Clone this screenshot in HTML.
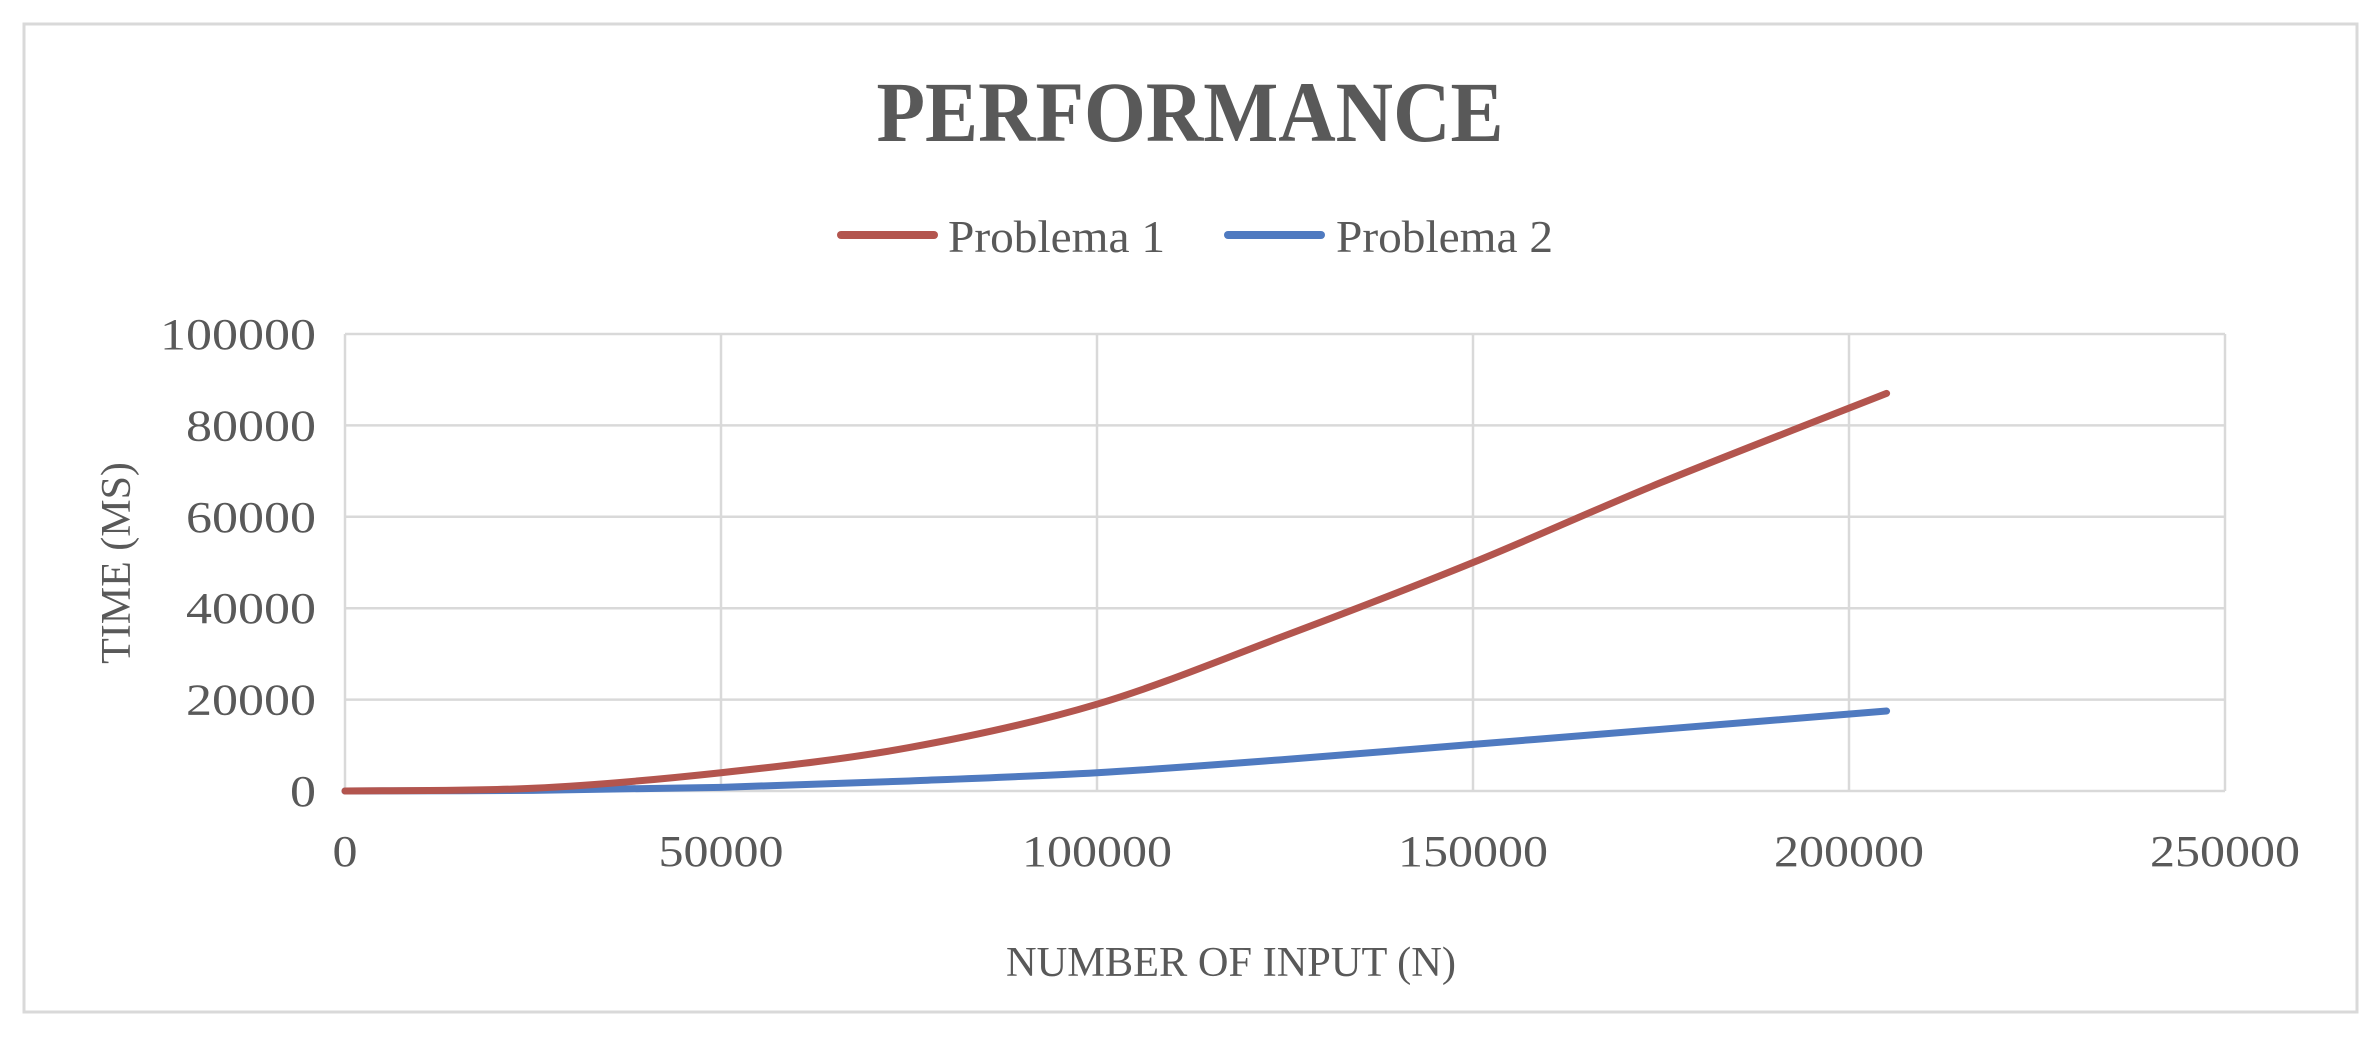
<!DOCTYPE html>
<html><head><meta charset="utf-8"><style>
html,body{margin:0;padding:0;background:#fff;}
svg text{font-family:"Liberation Serif",serif;fill:#595959;}
</style></head><body>
<svg width="2380" height="1036" xmlns="http://www.w3.org/2000/svg">
<rect x="24" y="24" width="2333" height="988" fill="#fff" stroke="#d9d9d9" stroke-width="3"/>
<text x="1190" y="141" text-anchor="middle" font-size="86" font-weight="bold" textLength="627" lengthAdjust="spacingAndGlyphs">PERFORMANCE</text>
<g>
<line x1="841" y1="235" x2="934" y2="235" stroke="#b3554e" stroke-width="8" stroke-linecap="round"/>
<text x="948" y="252" font-size="46" textLength="217" lengthAdjust="spacingAndGlyphs">Problema 1</text>
<line x1="1228" y1="235" x2="1321" y2="235" stroke="#4f7ac0" stroke-width="8" stroke-linecap="round"/>
<text x="1336" y="252" font-size="46" textLength="217" lengthAdjust="spacingAndGlyphs">Problema 2</text>
</g>
<g id="grid"></g><g id="ticks"></g><g id="series"></g>
<text x="1231" y="976" text-anchor="middle" font-size="42" textLength="450" lengthAdjust="spacingAndGlyphs">NUMBER OF INPUT (N)</text>
<text transform="translate(130,563) rotate(-90)" text-anchor="middle" font-size="42">TIME (MS)</text>
</svg>
<script>
const xTicks=[0,50000,100000,150000,200000,250000];
const yTicks=[0,20000,40000,60000,80000,100000];
const xs=[0,25000,50000,75000,100000,125000,150000,175000,205000];
const p1=[0,600,4000,9500,19000,34000,50000,67500,87000];
const p2=[0,150,800,2200,4000,6900,10200,13500,17500];
const NS='http://www.w3.org/2000/svg';
const X0=345,X1=2225,Y0=791,Y1=334;
function sx(v){return X0+(X1-X0)*v/250000;}
function sy(v){return Y0-(Y0-Y1)*v/100000;}
function mk(t,a,p){const e=document.createElementNS(NS,t);for(const k in a)e.setAttribute(k,a[k]);p.appendChild(e);return e;}
const g=document.getElementById('grid'),tk=document.getElementById('ticks'),s=document.getElementById('series');
yTicks.forEach(v=>{const l=mk('line',{x1:X0,x2:X1,y1:sy(v),y2:sy(v),stroke:'#d9d9d9','stroke-width':2.5},g);


const t=mk('text',{x:316,y:sy(v)+15,'text-anchor':'end','font-size':44,textLength:String(v).length*26,lengthAdjust:'spacingAndGlyphs'},tk);t.textContent=v;

});
xTicks.forEach(v=>{const l=mk('line',{x1:sx(v),x2:sx(v),y1:Y1,y2:Y0,stroke:'#d9d9d9','stroke-width':2.5},g);


const t=mk('text',{x:sx(v),y:866,'text-anchor':'middle','font-size':44,textLength:String(v).length*25,lengthAdjust:'spacingAndGlyphs'},tk);t.textContent=v;

});
function path(ys){const p=xs.map((x,i)=>[sx(x),sy(ys[i])]);let d='M'+p[0][0]+','+p[0][1];
for(let i=0;i<p.length-1;i++){const a=p[Math.max(i-1,0)],b=p[i],c=p[i+1],e=p[Math.min(i+2,p.length-1)];
d+=' C'+(b[0]+(c[0]-a[0])/6)+','+(b[1]+(c[1]-a[1])/6)+' '+(c[0]-(e[0]-b[0])/6)+','+(c[1]-(e[1]-b[1])/6)+' '+c[0]+','+c[1];}return d;}
const l2=mk('path',{d:path(p2),fill:'none',stroke:'#4f7ac0','stroke-width':7,'stroke-linecap':'round'},s);


const l1=mk('path',{d:path(p1),fill:'none',stroke:'#b3554e','stroke-width':7,'stroke-linecap':'round'},s);


</script>
</body></html>
